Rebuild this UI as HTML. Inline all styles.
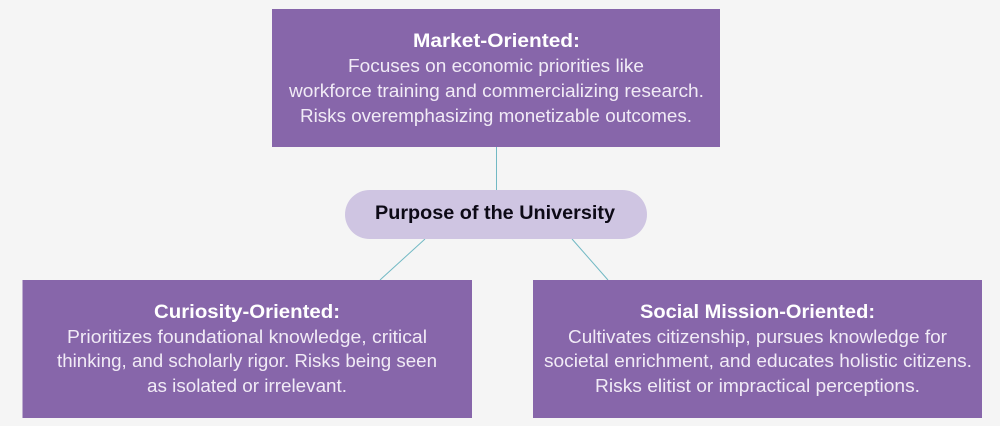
<!DOCTYPE html>
<html lang="en">
<head>
<meta charset="utf-8">
<title>Purpose of the University</title>
<style>
html,body{margin:0;padding:0;background:#f5f5f5;}
svg{display:block;}
text{font-family:"Liberation Sans",sans-serif;text-anchor:start;}
.h{font-size:19px;font-weight:bold;fill:#ffffff;}
.b{font-size:18px;fill:#f1ebf6;}
.c{font-size:19.5px;font-weight:bold;fill:#0d0a16;}
</style>
</head>
<body>
<svg width="1000" height="426" viewBox="0 0 1000 426" xmlns="http://www.w3.org/2000/svg">
<rect width="1000" height="426" fill="#f5f5f5"/>
<g stroke="#72b9c4" stroke-width="1" fill="none">
<line x1="496.5" y1="147" x2="496.5" y2="190"/>
<line x1="425" y1="239" x2="380" y2="280"/>
<line x1="572" y1="239" x2="608" y2="280"/>
</g>
<rect x="272" y="9" width="448" height="138" fill="#8766aa"/>
<rect x="22.5" y="280" width="449.5" height="138" fill="#8766aa"/>
<rect x="533" y="280" width="449" height="138" fill="#8766aa"/>
<rect x="345" y="190" width="302" height="49" rx="24.5" ry="24.5" fill="#cfc5e2"/>

<text class="h" x="413" y="47" textLength="167" lengthAdjust="spacingAndGlyphs">Market-Oriented:</text>
<text class="b" x="348" y="72" textLength="296" lengthAdjust="spacingAndGlyphs">Focuses on economic priorities like</text>
<text class="b" x="289" y="97" textLength="415" lengthAdjust="spacingAndGlyphs">workforce training and commercializing research.</text>
<text class="b" x="300" y="122" textLength="392" lengthAdjust="spacingAndGlyphs">Risks overemphasizing monetizable outcomes.</text>

<text class="c" x="375" y="219" textLength="240" lengthAdjust="spacingAndGlyphs">Purpose of the University</text>

<text class="h" x="154" y="318" textLength="186" lengthAdjust="spacingAndGlyphs">Curiosity-Oriented:</text>
<text class="b" x="67" y="343" textLength="360" lengthAdjust="spacingAndGlyphs">Prioritizes foundational knowledge, critical</text>
<text class="b" x="57" y="367" textLength="380" lengthAdjust="spacingAndGlyphs">thinking, and scholarly rigor. Risks being seen</text>
<text class="b" x="147" y="392" textLength="200" lengthAdjust="spacingAndGlyphs">as isolated or irrelevant.</text>

<text class="h" x="640" y="318" textLength="235" lengthAdjust="spacingAndGlyphs">Social Mission-Oriented:</text>
<text class="b" x="568" y="343" textLength="379" lengthAdjust="spacingAndGlyphs">Cultivates citizenship, pursues knowledge for</text>
<text class="b" x="544" y="367" textLength="428" lengthAdjust="spacingAndGlyphs">societal enrichment, and educates holistic citizens.</text>
<text class="b" x="595" y="392" textLength="325" lengthAdjust="spacingAndGlyphs">Risks elitist or impractical perceptions.</text>
</svg>
</body>
</html>
